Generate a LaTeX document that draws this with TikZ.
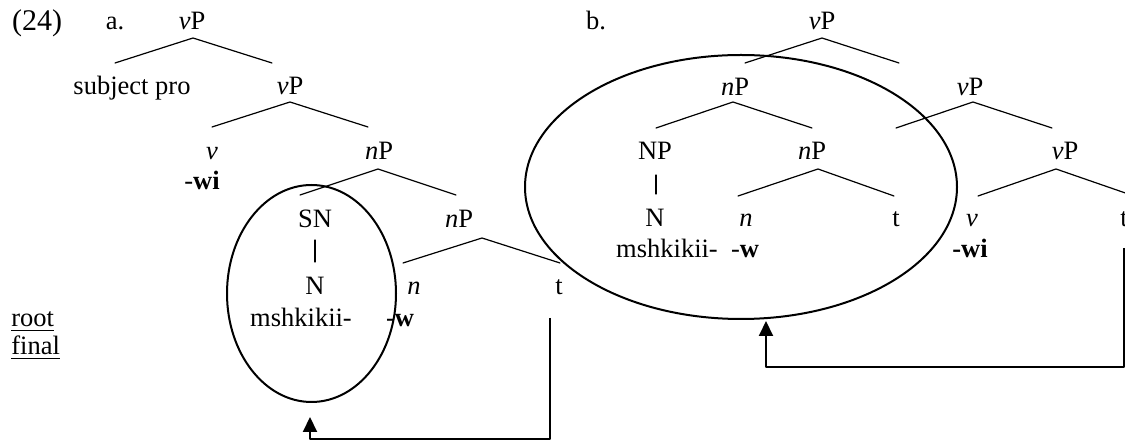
\documentclass[tikz,border=0pt]{standalone}
\usepackage{fontspec}
\setmainfont{Liberation Serif}
\usetikzlibrary{arrows.meta}

\begin{document}
\begin{tikzpicture}[x=0.5pt, y=-0.5pt, line cap=round, line join=round,
  lab/.style={anchor=base, inner sep=0pt, font=\fontsize{13.25}{15}\selectfont},
  branch/.style={line width=0.6pt},
  ring/.style={line width=1pt},
  move/.style={line width=1pt, line cap=butt, -{Triangle[width=7pt,length=7.5pt]}}]

\useasboundingbox (0,0) rectangle (1125,442);
\clip (0,0) rectangle (1125,442);

% --- tree (a) ---
\node[lab, font=\fontsize{15}{17}\selectfont] (ex) at (37,31) {(24)};
\node[lab] (aa)    at (115,30)  {a.};
\node[lab] (avP1)  at (192,30)  {\textit{v}P};
\node[lab] (asubj) at (132,95)  {subject pro};
\node[lab] (avP2)  at (290,95)  {\textit{v}P};
\node[lab] (av)    at (212,160) {\textit{v}};
\node[lab] (awi)   at (202,190) {-\textbf{wi}};
\node[lab] (anP1)  at (379,160) {\textit{n}P};
\node[lab] (aSN)   at (315,228) {SN};
\node[lab] (anP2)  at (459,228) {\textit{n}P};
\node[lab] (aN)    at (315,295) {N};
\node[lab] (an)    at (414,295) {\textit{n}};
\node[lab] (at)    at (559,295) {t};
\node[lab] (amsh)  at (301,327) {mshkikii-};
\node[lab] (aw)    at (400,327) {-\textbf{w}};

% row labels
\node[lab, anchor=base west] (root)  at (11,327) {\underline{root}};
\node[lab, anchor=base west] (final) at (11,355) {\underline{final}};

% branch points of tree (a)
\coordinate (a1) at (193,38);  \coordinate (a1l) at (115,63);  \coordinate (a1r) at (272,63);
\coordinate (a2) at (290,102); \coordinate (a2l) at (212,127); \coordinate (a2r) at (368,127);
\coordinate (a3) at (378,169); \coordinate (a3l) at (300,195); \coordinate (a3r) at (456,195);
\coordinate (a4) at (482,238); \coordinate (a4l) at (403,263); \coordinate (a4r) at (560,263);

\draw[branch] (a1l) -- (a1) -- (a1r);
\draw[branch] (a2l) -- (a2) -- (a2r);
\draw[branch] (a3l) -- (a3) -- (a3r);
\draw[branch] (a4l) -- (a4) -- (a4r);
\coordinate (aSNb) at (315,240);
\draw[branch] (aSNb) -- ++(0,22);

% circled root and its move
\draw[ring] (311.5,293.5) ellipse [x radius=42.25pt, y radius=54.25pt];
\coordinate (srcA) at (550,318);
\coordinate (tipA) at (310,417);
\draw[move] (srcA) -- ++(0,121) -| (tipA);

% --- tree (b) ---
\node[lab] (bb)    at (596,30)   {b.};
\node[lab] (bvP1)  at (822,30)   {\textit{v}P};
\node[lab] (bnP1)  at (735,96)   {\textit{n}P};
\node[lab] (bvP2)  at (970,96)   {\textit{v}P};
\node[lab] (bNP)   at (655,160)  {NP};
\node[lab] (bnP2)  at (812,160)  {\textit{n}P};
\node[lab] (bvP3)  at (1065,160) {\textit{v}P};
\node[lab] (bN)    at (655,227)  {N};
\node[lab] (bn)    at (746,227)  {\textit{n}};
\node[lab] (bt1)   at (896,227)  {t};
\node[lab] (bv)    at (972,227)  {\textit{v}};
\node[lab] (bt2)   at (1124,227) {t};
\node[lab] (bmsh)  at (667,258)  {mshkikii-};
\node[lab] (bw)    at (745,258)  {-\textbf{w}};
\node[lab] (bwi)   at (970,258)  {\textbf{-wi}};

% branch points of tree (b)
\coordinate (b1) at (822,38);   \coordinate (b1l) at (745,63);  \coordinate (b1r) at (899,63);
\coordinate (b2) at (733,102);  \coordinate (b2l) at (656,128); \coordinate (b2r) at (812,128);
\coordinate (b3) at (973,102);  \coordinate (b3l) at (896,128); \coordinate (b3r) at (1052,128);
\coordinate (b4) at (818,169);  \coordinate (b4l) at (738,196); \coordinate (b4r) at (894,196);
\coordinate (b5) at (1056,169); \coordinate (b5l) at (978,196); \coordinate (b5r) at (1134,196);

\draw[branch] (b1l) -- (b1) -- (b1r);
\draw[branch] (b2l) -- (b2) -- (b2r);
\draw[branch] (b3l) -- (b3) -- (b3r);
\draw[branch] (b4l) -- (b4) -- (b4r);
\draw[branch] (b5l) -- (b5) -- (b5r);
\coordinate (bNPb) at (656,175);
\draw[branch] (bNPb) -- ++(0,19);

% circled nP and its move
\draw[ring] (741,187) ellipse [x radius=108pt, y radius=66pt];
\coordinate (srcB) at (1124,248);
\coordinate (tipB) at (766,321);
\draw[move] (srcB) -- ++(0,119) -| (tipB);

\end{tikzpicture}
\end{document}
